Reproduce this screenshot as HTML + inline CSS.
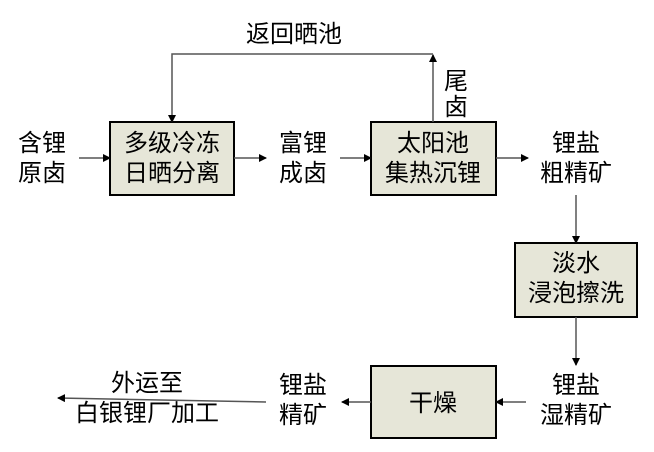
<!DOCTYPE html>
<html><head><meta charset="utf-8"><style>
html,body{margin:0;padding:0;background:#fff;}
svg{display:block;}
text{font-family:"Liberation Sans","Noto Sans CJK SC",sans-serif;font-size:24px;fill:#000;text-anchor:middle;}
</style></head><body>
<svg width="654" height="452" viewBox="0 0 654 452" xmlns="http://www.w3.org/2000/svg">
<defs><marker id="a" markerWidth="8" markerHeight="8" refX="7" refY="4" orient="auto" markerUnits="userSpaceOnUse"><path d="M0,0 L8,4 L0,8 z" fill="#000"/></marker></defs>
<g fill="#e6e6d8" stroke="#000" stroke-width="2">
<rect x="110" y="122" width="124" height="73"/>
<rect x="371" y="122" width="125" height="73"/>
<rect x="515" y="243" width="122" height="74"/>
<rect x="371" y="366" width="125" height="72"/>
</g>
<g stroke="#555" stroke-width="1.5" fill="none" marker-end="url(#a)">
<line x1="79" y1="158" x2="110" y2="158"/>
<line x1="234" y1="158" x2="266" y2="158"/>
<line x1="340" y1="158" x2="371" y2="158"/>
<line x1="496" y1="158" x2="528" y2="158"/>
<line x1="433" y1="122" x2="433" y2="55"/>
<polyline points="433,54 172,54 172,122"/>
<line x1="576" y1="195" x2="576" y2="243"/>
<line x1="576" y1="317" x2="576" y2="365"/>
<line x1="526" y1="402" x2="496" y2="402"/>
<line x1="371" y1="402" x2="342" y2="402"/>
<line x1="266" y1="402" x2="58" y2="398"/>
</g>
<text x="42" y="151">含锂</text><text x="42" y="181">原卤</text>
<text x="172" y="151">多级冷冻</text><text x="172" y="181">日晒分离</text>
<text x="303" y="151">富锂</text><text x="303" y="181">成卤</text>
<text x="433" y="151">太阳池</text><text x="433" y="181">集热沉锂</text>
<text x="576" y="151">锂盐</text><text x="576" y="181">粗精矿</text>
<text x="294" y="42">返回晒池</text>
<text x="456" y="89">尾</text><text x="456" y="115">卤</text>
<text x="576" y="271">淡水</text><text x="576" y="301">浸泡擦洗</text>
<text x="576" y="393">锂盐</text><text x="576" y="423">湿精矿</text>
<text x="433" y="411">干燥</text>
<text x="303" y="393">锂盐</text><text x="303" y="423">精矿</text>
<text x="147" y="391">外运至</text><text x="147" y="421">白银锂厂加工</text>
</svg>
</body></html>
